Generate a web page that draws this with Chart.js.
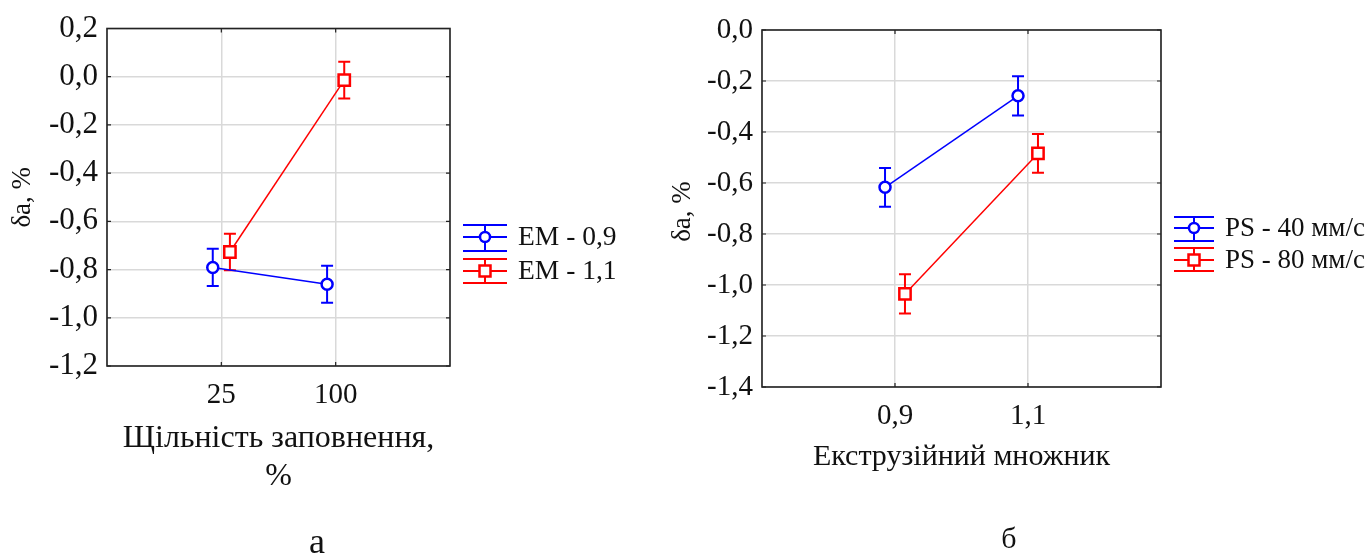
<!DOCTYPE html>
<html><head><meta charset="utf-8">
<script src="https://cdn.jsdelivr.net/npm/chart.js@4/dist/chart.umd.min.js"></script>
<style>
html,body{margin:0;padding:0;background:#fff;width:1366px;height:555px;overflow:hidden}
.wrap{position:absolute;top:0;height:555px}
</style></head><body>
<div class="wrap" style="left:0;width:660px"><canvas id="c1"></canvas></div>
<div class="wrap" style="left:660px;width:706px"><canvas id="c2"></canvas></div>
<script>
// ---- Data: chart "а" ----
const catsA = ['25', '100'];
const em09Mean = [-0.791, -0.861];
const em09Err  = [0.077, 0.077];
const em11Mean = [-0.727, -0.014];
const em11Err  = [0.076, 0.076];
const yRangeA  = [-1.2, 0.2];
// ---- Data: chart "б" ----
const catsB = ['0,9', '1,1'];
const ps40Mean = [-0.617, -0.258];
const ps40Err  = [0.076, 0.077];
const ps80Mean = [-1.035, -0.484];
const ps80Err  = [0.077, 0.076];
const yRangeB  = [-1.4, 0.0];

const SHIFT = 0.075; // horizontal dodge of the two series
const FONT = 'Liberation Serif';
const BLUE = '#0000ff', RED = '#ff0000', INK = '#111';

function fmt(v){ if (Math.abs(v) < 1e-9) v = 0; return v.toFixed(1).replace('.', ','); }

function pts(means, dx){ return means.map((m, i) => ({x: i + 1 + dx, y: m})); }

function makeChart(id, o){
  const ds = [
    {label:o.names[0], data:pts(o.s1, -SHIFT), err:o.e1, borderColor:BLUE, backgroundColor:'#fff',
     pointStyle:'circle', pointRadius:5.5, pointBorderWidth:2.5, borderWidth:1.5, showLine:true},
    {label:o.names[1], data:pts(o.s2, SHIFT), err:o.e2, borderColor:RED, backgroundColor:'#fff',
     pointStyle:'rect', pointRadius:8, pointBorderWidth:2.5, borderWidth:1.5, showLine:true}
  ];
  const plug = {
    id:'extras'+id,
    beforeDatasetsDraw(chart){
      const ctx = chart.ctx, ys = chart.scales.y;
      chart.data.datasets.forEach((d, i) => {
        const meta = chart.getDatasetMeta(i);
        ctx.save(); ctx.strokeStyle = d.borderColor; ctx.lineWidth = 2;
        meta.data.forEach((p, j) => {
          const m = d.data[j].y, e = d.err[j];
          const t = ys.getPixelForValue(m + e), b = ys.getPixelForValue(m - e);
          ctx.beginPath();
          ctx.moveTo(p.x, t); ctx.lineTo(p.x, b);
          ctx.moveTo(p.x - 6, t); ctx.lineTo(p.x + 6, t);
          ctx.moveTo(p.x - 6, b); ctx.lineTo(p.x + 6, b);
          ctx.stroke();
        });
        ctx.restore();
      });
    },
    afterDraw(chart){
      const ctx = chart.ctx, a = chart.chartArea, xs = chart.scales.x, ys = chart.scales.y;
      ctx.save();
      // inner tick marks
      ctx.strokeStyle = '#222'; ctx.lineWidth = 1.2;
      ctx.beginPath();
      ys.ticks.forEach(t => { const y = ys.getPixelForValue(t.value);
        ctx.moveTo(a.left, y); ctx.lineTo(a.left + 4, y);
        ctx.moveTo(a.right, y); ctx.lineTo(a.right - 4, y); });
      [1, 2].forEach(v => { const x = xs.getPixelForValue(v);
        ctx.moveTo(x, a.top); ctx.lineTo(x, a.top + 4);
        ctx.moveTo(x, a.bottom); ctx.lineTo(x, a.bottom - 4); });
      ctx.stroke();
      // frame
      ctx.strokeStyle = '#222'; ctx.lineWidth = 1.6;
      ctx.strokeRect(a.left, a.top, a.right - a.left, a.bottom - a.top);
      // axis titles
      ctx.fillStyle = INK; ctx.textAlign = 'center'; ctx.textBaseline = 'alphabetic';
      ctx.font = o.xTitleSize + 'px "' + FONT + '"';
      const cx = (a.left + a.right) / 2;
      o.xTitle.forEach((line, k) => ctx.fillText(line, cx, o.xTitleY[k]));
      ctx.font = o.capSize + 'px "' + FONT + '"';
      ctx.fillText(o.caption, o.capX, o.capY);
      ctx.save();
      ctx.translate(o.yTitleX, (a.top + a.bottom) / 2 + o.yTitleDy);
      ctx.rotate(-Math.PI / 2);
      ctx.font = '27px "' + FONT + '"'; ctx.textBaseline = 'middle';
      ctx.fillText('δa, %', 0, 0);
      ctx.restore();
      // legend
      const L = o.legend;
      chart.data.datasets.forEach((d, i) => {
        const g = L.rows[i];
        ctx.strokeStyle = d.borderColor; ctx.lineWidth = 2;
        ctx.beginPath();
        ctx.moveTo(L.x0, g[0]); ctx.lineTo(L.x1, g[0]);
        ctx.moveTo(L.x0, g[1]); ctx.lineTo(L.x1, g[1]);
        ctx.moveTo(L.x0, g[2]); ctx.lineTo(L.x1, g[2]);
        const mx = (L.x0 + L.x1) / 2;
        ctx.moveTo(mx, g[0]); ctx.lineTo(mx, g[2]);
        ctx.stroke();
        ctx.lineWidth = 2.5; ctx.fillStyle = '#fff';
        ctx.beginPath();
        if (i === 0) ctx.arc(mx, g[1], 5, 0, Math.PI * 2);
        else ctx.rect(mx - 5.5, g[1] - 5.5, 11, 11);
        ctx.fill(); ctx.stroke();
        ctx.fillStyle = INK; ctx.textAlign = 'left'; ctx.textBaseline = 'middle';
        ctx.font = L.size + 'px "' + FONT + '"';
        ctx.fillText(d.label, L.tx, g[1] + 1);
      });
      ctx.restore();
    }
  };
  return new Chart(document.getElementById(id), {
    type:'scatter',
    data:{datasets:ds},
    options:{
      responsive:true, maintainAspectRatio:false, animation:false,
      layout:{padding:{left:0, top:o.top, right:o.right, bottom:0}},
      plugins:{legend:{display:false}, tooltip:{enabled:false}},
      scales:{
        x:{type:'linear', min:0, max:3,
           afterFit(s){ s.height = o.xh; },
           afterBuildTicks(s){ s.ticks = [0,1,2,3].map(v => ({value:v})); },
           ticks:{autoSkip:false, maxRotation:0, padding:12, color:INK,
                  font:{family:FONT, size:29},
                  callback:(v) => (v === 1 || v === 2) ? o.cats[v - 1] : ''},
           grid:{color:'#d9d9d9', lineWidth:1.5, drawTicks:false}, border:{display:false}},
        y:{min:o.yr[0], max:o.yr[1],
           afterFit(s){ s.width = o.yw; },
           ticks:{stepSize:0.2, padding:9, color:INK, font:{family:FONT, size:o.ytSize},
                  callback:(v) => fmt(v)},
           grid:{color:'#d9d9d9', lineWidth:1.5, drawTicks:false}, border:{display:false}}
      }
    },
    plugins:[plug]
  });
}

makeChart('c1', {
  cats:catsA, s1:em09Mean, e1:em09Err, s2:em11Mean, e2:em11Err, yr:yRangeA,
  names:['EM - 0,9', 'EM - 1,1'],
  top:28.5, right:210, xh:189, yw:107, ytSize:31,
  xTitle:['Щільність заповнення,', '%'], xTitleY:[447, 485], xTitleSize:32,
  caption:'а', capX:317, capY:553, capSize:36,
  yTitleX:23, yTitleDy:0,
  legend:{x0:463, x1:507, tx:518, size:27.5, rows:[[225, 237, 251], [259, 271, 283]]}
});
makeChart('c2', {
  cats:catsB, s1:ps40Mean, e1:ps40Err, s2:ps80Mean, e2:ps80Err, yr:yRangeB,
  names:['PS - 40 мм/с', 'PS - 80 мм/с'],
  top:30, right:205, xh:168, yw:102, ytSize:29,
  xTitle:['Екструзійний множник'], xTitleY:[465], xTitleSize:30,
  caption:'б', capX:1009 - 660, capY:548, capSize:30,
  yTitleX:23, yTitleDy:3,
  legend:{x0:1174 - 660, x1:1214 - 660, tx:1225 - 660, size:27, rows:[[217, 228, 241], [248, 260, 271]]}
});
</script>
</body></html>
